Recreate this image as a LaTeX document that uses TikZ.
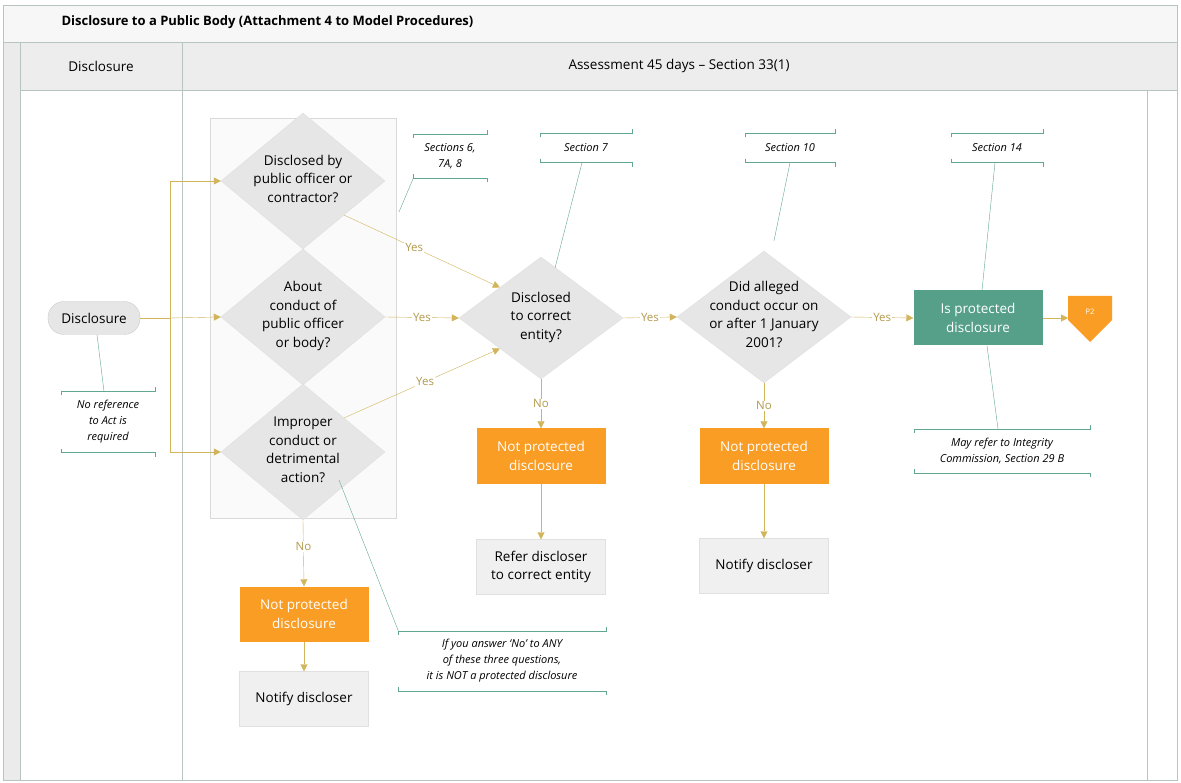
\documentclass[tikz,border=0pt]{standalone}
\usepackage{fontspec}
\setmainfont{Open Sans}
\usetikzlibrary{shapes.geometric,arrows.meta,positioning}
\definecolor{flow}{HTML}{D2B55B}
\definecolor{notec}{HTML}{62A88F}
\definecolor{orng}{HTML}{F99D25}
\definecolor{grn}{HTML}{56A089}
\definecolor{dgrey}{HTML}{E6E6E6}
\definecolor{frame}{HTML}{B8C4BE}
\newcommand{\dtext}[1]{\raisebox{-5pt}{\smash{\makebox[0pt]{\begin{tabular}{@{}c@{}}#1\end{tabular}}}}}
\tikzset{
  base/.style={font=\fontsize{13.5}{18.5}\selectfont, align=center, inner sep=2pt},
  dec/.style={base, shape=diamond, fill=dgrey, draw=black!12, minimum width=164, minimum height=136, inner sep=0pt},
  notp/.style={base, fill=orng, text=white, minimum width=129, minimum height=55},
  act/.style={base, fill=dgrey!60, draw=black!12, minimum width=129, minimum height=55},
  note/.style={font=\fontsize{11}{16}\selectfont\itshape, align=center, inner sep=2pt},
  flw/.style={flow, -{Triangle[length=7,width=7]}},
  lbl/.style={font=\fontsize{11.5}{12}\selectfont, text=flow!85!black, fill=white, inner sep=1pt},
  nl/.style={notec, thin}
}
\newcommand{\bracketit}[1]{%
  \draw[notec] ([yshift=-4]#1.north west) -- (#1.north west) -- (#1.north east) -- ++(0,-4);
  \draw[notec] ([yshift=4]#1.south west) -- (#1.south west) -- (#1.south east) -- ++(0,4);}
\begin{document}
\begin{tikzpicture}[x=1pt,y=-1pt]
\useasboundingbox (0,0) rectangle (1181,783);
% pool and lanes
\fill[white] (3,5) rectangle (1177,780);
\fill[black!3] (3,5) rectangle (1177,42);
\fill[black!8] (3,42) rectangle (20,780);
\fill[black!7] (20,42) rectangle (1177,90);
\draw[frame] (3,5) rectangle (1177,780);
\draw[frame] (3,42) -- (1177,42);
\draw[frame] (20,42) -- (20,780);
\draw[frame] (20,90) -- (1177,90);
\draw[frame] (182,42) -- (182,780);
\draw[frame] (1147,90) -- (1147,780);
\node[font=\fontsize{13}{15}\selectfont\bfseries, anchor=west] (title) at (58,22) {Disclosure to a Public Body (Attachment 4 to Model Procedures)};
\node[base] (lane1) at (101,66) {Disclosure};
\node[base] (lane2) at (679,66) {Assessment 45 days – Section 33(1)};
% group box
\draw[black!15, fill=black!2] (210,118) rectangle (396,518);

% nodes
\node[base, fill=dgrey, draw=black!20, rounded corners=16, minimum width=92, minimum height=33] (start) at (94,318) {Disclosure};
\node[dec] (q1) at (303,181) {\dtext{Disclosed by\\public officer or\\contractor?}};
\node[dec] (q2) at (303,317) {\dtext{About\\conduct of\\public officer\\or body?}};
\node[dec] (q3) at (303,452) {\dtext{Improper\\conduct or\\detrimental\\action?}};
\node[dec, minimum height=122] (q4) at (541,318) {\dtext{Disclosed\\to correct\\entity?}};
\node[dec, minimum width=174, minimum height=132] (q5) at (764,317) {\dtext{Did alleged\\conduct occur on\\or after 1 January\\2001?}};
\node[base, fill=grn, text=white, minimum width=129, minimum height=55] (yes) at (978,318) {Is protected\\disclosure};
\fill[orng] (1068,296) -- (1112,296) -- (1112,320) -- (1090,342) -- (1068,320) -- cycle;
\node[font=\fontsize{7.5}{8}\selectfont, text=white, inner sep=0pt] (p2) at (1090,312) {P2};
\node[notp] (np4) at (541,456) {Not protected\\disclosure};
\node[notp] (np5) at (764,456) {Not protected\\disclosure};
\node[notp] (np3) at (304,614) {Not protected\\disclosure};
\node[act] (ref) at (541,567) {Refer discloser\\to correct entity};
\node[act] (ntf5) at (764,566) {Notify discloser};
\node[act] (ntf3) at (304,699) {Notify discloser};

% notes
\node[note, minimum width=93, minimum height=61] (nref) at (108,422) {No reference\\to Act is\\required};
\node[note, minimum width=73, minimum height=44] (n6) at (450,156) {Sections 6,\\7A, 8};
\node[note, minimum width=92, minimum height=29] (n7) at (586,148) {Section 7};
\node[note, minimum width=89, minimum height=29] (n10) at (790,148) {Section 10};
\node[note, minimum width=91, minimum height=29] (n14) at (997,148) {Section 14};
\node[note, minimum width=176, minimum height=44] (nint) at (1002,451) {May refer to Integrity\\Commission, Section 29 B};
\node[note, minimum width=207, minimum height=60] (nany) at (502,661) {If you answer ‘No’ to ANY\\of these three questions,\\it is NOT a protected disclosure};
\foreach \n in {nref,n6,n7,n10,n14,nint,nany}{\bracketit{\n}}
\coordinate (g6) at (399,212);
\coordinate (g7) at (555,268);
\coordinate (gq3) at (339,480);
\draw[nl] (start.south) ++(3,0) -- ([xshift=-4]nref.north);
\draw[nl] (n6.south west) -- (g6);
\draw[nl] ([xshift=-4]n7.south) -- (g7);
\draw[nl] (n10.south) -- ([xshift=10,yshift=10]q5.north);
\draw[nl] ([xshift=-2]n14.south) -- ([xshift=4]yes.north);
\draw[nl] ([xshift=9]yes.south) -- ([xshift=-4]nint.north);
\draw[nl] (gq3) -- (nany.north west);

% flows
\coordinate (split) at (170,318);
\draw[flow] (start.east) -- (split);
\draw[flw] (split) |- (q1.west);
\draw[flw] (split) -- (q2.west);
\draw[flw] (split) |- (q3.west);
\draw[flw] (q1.south east) -- node[lbl,pos=0.45]{Yes} (q4.north west);
\draw[flw] (q2.east) -- node[lbl]{Yes} (q4.west);
\draw[flw] (q3.north east) -- node[lbl,pos=0.52]{Yes} (q4.south west);
\draw[flw] (q4.east) -- node[lbl]{Yes} (q5.west);
\draw[flw] (q5.east) -- node[lbl]{Yes} (yes.west);
\draw[flw] (yes.east) -- (yes.east -| 1068,0);
\draw[flw] (q4.south) -- node[lbl]{No} (np4.north);
\draw[flw] (q5.south) -- node[lbl]{No} (np5.north);
\draw[flw] (q3.south) -- node[lbl,pos=0.4]{No} (np3.north);
\draw[flw] (np4.south) -- (ref.north);
\draw[flw] (np5.south) -- (ntf5.north);
\draw[flw] (np3.south) -- (ntf3.north);
\end{tikzpicture}
\end{document}
